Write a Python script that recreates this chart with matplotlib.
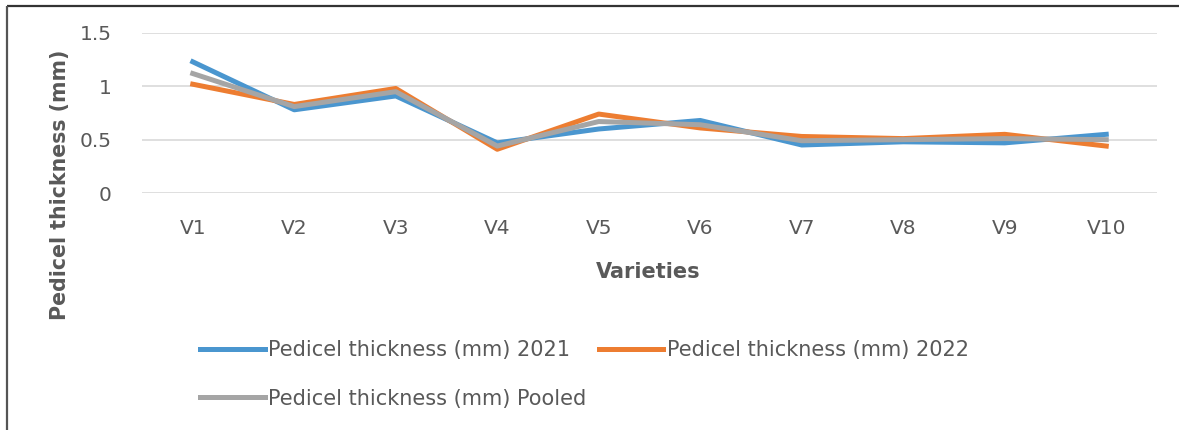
import matplotlib
matplotlib.use("Agg")
import matplotlib.pyplot as plt
from matplotlib.lines import Line2D

plt.rcParams['font.family'] = ['DejaVu Sans']

varieties = ['V1', 'V2', 'V3', 'V4', 'V5', 'V6', 'V7', 'V8', 'V9', 'V10']
thick_2021 = [1.23, 0.78, 0.91, 0.47, 0.60, 0.68, 0.45, 0.48, 0.47, 0.55]
thick_2022 = [1.02, 0.83, 0.98, 0.41, 0.74, 0.61, 0.53, 0.51, 0.55, 0.44]
thick_pooled = [1.12, 0.81, 0.95, 0.44, 0.67, 0.64, 0.49, 0.50, 0.51, 0.50]
y_ticks = [0, 0.5, 1, 1.5]
y_tick_labels = ['0', '0.5', '1', '1.5']

blue = '#4a96cf'
orange = '#ed7d31'
gray = '#a5a5a5'
txt = '#595959'

W, H = 1179, 430
fig = plt.figure(figsize=(W / 100, H / 100), dpi=100)
ax = fig.add_axes([142 / W, 1 - 193 / H, 1015 / W, 160 / H])

x = list(range(len(varieties)))
l1, = ax.plot(x, thick_2021, color=blue, lw=3.6, solid_joinstyle='round',
              label='Pedicel thickness (mm) 2021')
l2, = ax.plot(x, thick_2022, color=orange, lw=3.6, solid_joinstyle='round',
              label='Pedicel thickness (mm) 2022')
l3, = ax.plot(x, thick_pooled, color=gray, lw=3.6, solid_joinstyle='round',
              label='Pedicel thickness (mm) Pooled')

ax.set_xlim(-0.5, len(varieties) - 0.5)
ax.set_ylim(0, 1.5)
ax.set_yticks(y_ticks)
ax.set_yticklabels(y_tick_labels)
ax.set_xticks(x)
ax.set_xticklabels(varieties)
ax.tick_params(length=0, labelsize=14.5, colors=txt)
ax.tick_params(axis='y', pad=22)
ax.tick_params(axis='x', pad=19)
ax.grid(axis='y', color='#d9d9d9', lw=1.2)
ax.set_axisbelow(True)
for s in ax.spines.values():
    s.set_visible(False)

fig.text(648 / W, 1 - 272 / H, 'Varieties', fontsize=15, fontweight='bold',
         color=txt, ha='center', va='center')
fig.text(60 / W, 1 - 185 / H, 'Pedicel thickness (mm)', rotation=90,
         fontsize=14.8, fontweight='bold', color=txt, ha='center', va='center')

leg = fig.legend(handles=[l1, l3, l2], ncol=2, frameon=False, fontsize=15,
                 labelcolor=txt, loc='upper left', borderpad=0,
                 bbox_to_anchor=(190 / W, 1 - 330 / H),
                 handlelength=3.1, handletextpad=0.15, columnspacing=0.6,
                 labelspacing=1.35)

# border lines like the pasted picture frame
fig.add_artist(Line2D([7 / W, 1], [1 - 6 / H, 1 - 6 / H],
                      transform=fig.transFigure, color='#333333', lw=1.6,
                      solid_capstyle='butt'))
fig.add_artist(Line2D([7 / W, 7 / W], [0, 1 - 6 / H],
                      transform=fig.transFigure, color='#555555', lw=1.6,
                      solid_capstyle='butt'))

fig.savefig('out.png', dpi=100)
